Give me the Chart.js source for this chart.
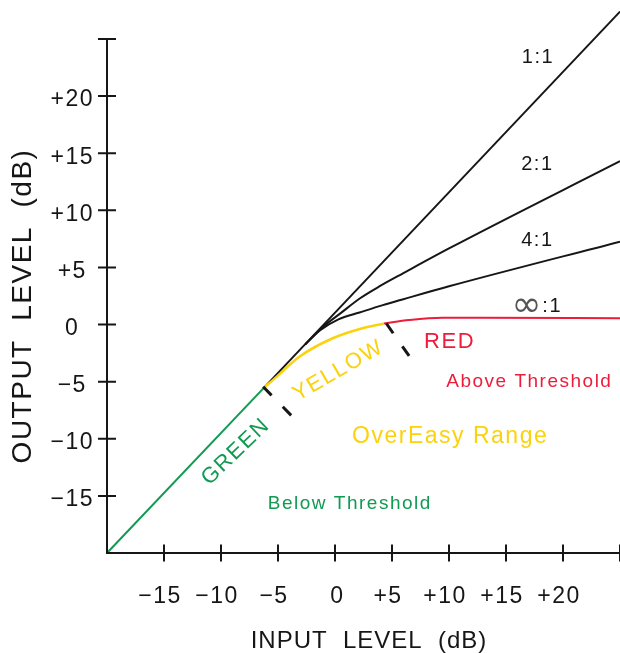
<!DOCTYPE html>
<html>
<head>
<meta charset="utf-8">
<script src="https://cdn.jsdelivr.net/npm/chart.js@4"></script>
<style>
  html, body { margin: 0; padding: 0; background: #fff; }
  #wrap { width: 620px; height: 653px; }
</style>
</head>
<body>
<div id="wrap"><canvas id="chart"></canvas></div>
<script>
// transfer curves, input dB -> output dB
const greenIn = [-20, -6.2];
const greenOut = [-20, -5.5];
const oneIn = [-6.2, 25];
const oneOut = [-5.5, 27.4];
const twoIn = [-2.6, -1, 0.5, 2.2, 4, 6, 10, 25];
const twoOut = [-1.72, -0.15, 1.0, 2.3, 3.4, 4.5, 6.66, 14.3];
const fourIn = [-2.6, -1.3, 0.3, 2.15, 4.2, 6, 10, 25];
const fourOut = [-1.72, -0.5, 0.45, 1.05, 1.7, 2.22, 3.35, 7.26];
const yellowIn = [-6.2, -5.1, -3.1, -0.2, 2.4, 4.3];
const yellowOut = [-5.5, -4.56, -2.8, -1.2, -0.32, 0.1];
const redIn = [4.3, 6.5, 9.4, 12.7, 25];
const redOut = [0.1, 0.4, 0.6, 0.6, 0.55];
// dashed markers at the two ends of the knee
const kneeLowIn = [-6.3, -3.8];
const kneeLowOut = [-5.45, -8.0];
const kneeHighIn = [4.5, 6.5];
const kneeHighOut = [0.1, -2.75];

const GREEN = '#119a52';
const YELLOW = '#fbd20c';
const RED = '#ec1c3a';
const INK = '#161616';

// labels placed in data units
const notes = [
  { text: '1:1', x: 17.8, y: 23.35, color: INK, size: 20 },
  { text: '2:1', x: 17.75, y: 14.0, color: INK, size: 20 },
  { text: '4:1', x: 17.75, y: 7.35, color: INK, size: 20 },
  { text: '\u221E', x: 16.8, y: 1.55, color: '#555', size: 36, family: 'DejaVu Sans' },
  { text: ':1', x: 19.05, y: 1.6, color: INK, size: 20 },
  { text: 'RED', x: 10.05, y: -1.5, color: RED, size: 22 },
  { text: 'Above Threshold', x: 17.05, y: -5.0, color: RED, size: 19 },
  { text: 'OverEasy Range', x: 10.1, y: -9.8, color: YELLOW, size: 23 },
  { text: 'Below Threshold', x: 1.3, y: -15.7, color: GREEN, size: 19 },
  { text: 'GREEN', x: -8.7, y: -11.15, color: GREEN, size: 22, rot: -44 },
  { text: 'YELLOW', x: 0.3, y: -4.05, color: YELLOW, size: 22, rot: -30 }
];

function pts(xs, ys) {
  return xs.map((v, i) => ({ x: v, y: ys[i] }));
}

function sign(v) {
  if (v === -20 || v === 25) return '';
  if (v > 0) return '+' + v;
  if (v < 0) return '\u2212' + Math.abs(v);
  return '0';
}

const curve = (data, color, width) => ({
  data: data,
  showLine: true,
  borderColor: color,
  borderWidth: width,
  pointRadius: 0,
  cubicInterpolationMode: 'monotone',
  clip: false
});

const marker = (data) => ({
  data: data,
  showLine: true,
  borderColor: INK,
  borderWidth: 3,
  borderDash: [12, 16],
  borderCapStyle: 'butt',
  pointRadius: 0,
  clip: false
});

const decor = {
  id: 'decor',
  beforeLayout(chart) { chart.ctx.letterSpacing = '1.5px'; },
  beforeDraw(chart) { chart.ctx.letterSpacing = '1.5px'; },
  afterDraw(chart) {
    const { ctx, scales: { x, y } } = chart;
    const x0 = x.getPixelForValue(-20), y0 = y.getPixelForValue(-20);
    ctx.save();
    ctx.strokeStyle = INK;
    ctx.lineWidth = 2;
    ctx.beginPath();
    ctx.moveTo(x0, y.getPixelForValue(25));
    ctx.lineTo(x0, y0);
    ctx.lineTo(x.getPixelForValue(25), y0);
    ctx.stroke();
    ctx.beginPath();
    for (let v = -15; v <= 25; v += 5) {
      const py = y.getPixelForValue(v);
      ctx.moveTo(x0 - 9, py); ctx.lineTo(x0 + 9, py);
      const px = x.getPixelForValue(v);
      ctx.moveTo(px, y0 - 8.5); ctx.lineTo(px, y0 + 8.5);
    }
    ctx.stroke();

    ctx.textAlign = 'center';
    ctx.textBaseline = 'middle';
    notes.forEach(n => {
      ctx.save();
      ctx.translate(x.getPixelForValue(n.x), y.getPixelForValue(n.y));
      if (n.rot) ctx.rotate(n.rot * Math.PI / 180);
      ctx.font = n.size + 'px ' + (n.family || '"Liberation Sans"');
      ctx.letterSpacing = n.family ? '0px' : '1.5px';
      ctx.fillStyle = n.color;
      ctx.fillText(n.text, 0, 0);
      ctx.restore();
    });

    // axis titles
    ctx.fillStyle = INK;
    ctx.font = '24px "Liberation Sans"';
    ctx.letterSpacing = '1px';
    ctx.fillText('INPUT  LEVEL  (dB)', 369, 641);
    ctx.save();
    ctx.translate(23, 306);
    ctx.rotate(-Math.PI / 2);
    ctx.font = '28px "Liberation Sans"';
    ctx.letterSpacing = '1.5px';
    ctx.fillText('OUTPUT  LEVEL  (dB)', 0, 0);
    ctx.restore();
    ctx.restore();
  }
};

new Chart(document.getElementById('chart'), {
  type: 'scatter',
  data: {
    datasets: [
      marker(pts(kneeLowIn, kneeLowOut)),
      marker(pts(kneeHighIn, kneeHighOut)),
      curve(pts(greenIn, greenOut), GREEN, 2),
      curve(pts(yellowIn, yellowOut), YELLOW, 2.5),
      curve(pts(redIn, redOut), RED, 2),
      curve(pts(oneIn, oneOut), INK, 2),
      curve(pts(twoIn, twoOut), INK, 2),
      curve(pts(fourIn, fourOut), INK, 2)
    ]
  },
  options: {
    responsive: true,
    maintainAspectRatio: false,
    animation: false,
    layout: { padding: { top: 39, right: 0, left: 0, bottom: 0 } },
    plugins: { legend: { display: false }, tooltip: { enabled: false } },
    scales: {
      x: {
        type: 'linear', min: -20, max: 25,
        grid: { display: false, drawTicks: false },
        border: { display: false },
        afterFit: s => { s.height = 100; s.paddingLeft = 0; s.paddingRight = 0; },
        ticks: {
          stepSize: 5, padding: 30, labelOffset: -4, maxRotation: 0, autoSkip: false,
          color: INK, font: { family: '"Liberation Sans"', size: 23 },
          // the 0 sits a little right of its tick in the original
          callback: v => (v === 0 ? '\u2002' : '') + sign(v)
        }
      },
      y: {
        type: 'linear', min: -20, max: 25,
        grid: { display: false, drawTicks: false },
        border: { display: false },
        afterFit: s => { s.width = 107; s.paddingTop = 0; s.paddingBottom = 0; },
        ticks: {
          stepSize: 5, padding: 13, labelOffset: 4, crossAlign: 'center', autoSkip: false,
          color: INK, font: { family: '"Liberation Sans"', size: 23 },
          callback: v => sign(v)
        }
      }
    }
  },
  plugins: [decor]
});
</script>
</body>
</html>
